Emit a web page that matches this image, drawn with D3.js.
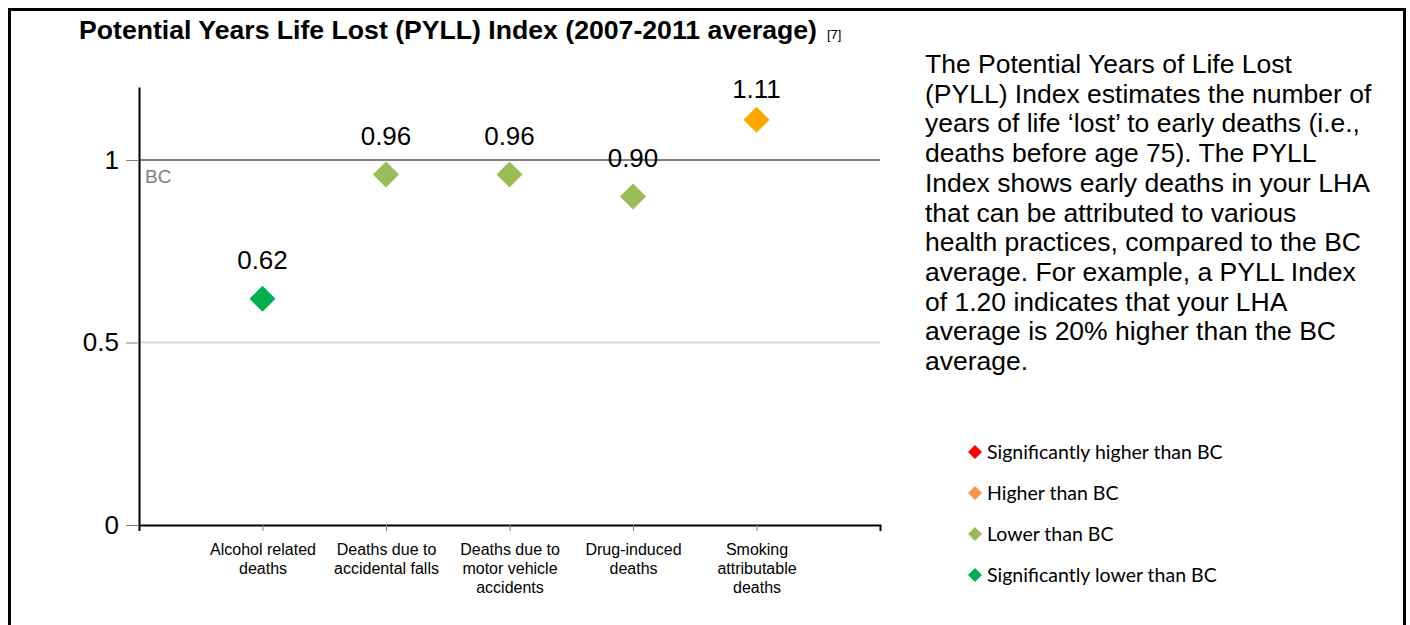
<!DOCTYPE html>
<html>
<head>
<meta charset="utf-8">
<script src="https://cdn.jsdelivr.net/npm/d3@7"></script>
<style>
  body { margin: 0; background: #fff; }
  svg { display: block; font-family: "Liberation Sans", Arial, sans-serif; }
</style>
</head>
<body>
<div id="root"></div>
<script>
const categories = [
  "Alcohol related\ndeaths",
  "Deaths due to\naccidental falls",
  "Deaths due to\nmotor vehicle\naccidents",
  "Drug-induced\ndeaths",
  "Smoking\nattributable\ndeaths"
];
const values = [0.62, 0.96, 0.96, 0.90, 1.11];
const pointColors = ["#00b050", "#9bbb59", "#9bbb59", "#9bbb59", "#ffa500"];
const yTicks = [0, 0.5, 1];
const legendLabels = ["Significantly higher than BC", "Higher than BC", "Lower than BC", "Significantly lower than BC"];
const legendColors = ["#ff0000", "#f79646", "#9bbb59", "#00b050"];
const noteLines = [
  "The Potential Years of Life Lost",
  "(PYLL) Index estimates the number of",
  "years of life \u2018lost\u2019 to early deaths (i.e.,",
  "deaths before age 75). The PYLL",
  "Index shows early deaths in your LHA",
  "that can be attributed to various",
  "health practices, compared to the BC",
  "average. For example, a PYLL Index",
  "of 1.20 indicates that your LHA",
  "average is 20% higher than the BC",
  "average."
];

const w = 1410;
const h = 625;
const plotLeft = 139, plotRight = 880, plotTop = 87, plotBottom = 525;

const svg = d3.select("#root")
  .append("svg")
  .attr("width", w)
  .attr("height", h);

// frame (open at the bottom)
svg.append("path")
  .attr("d", `M9.5,${h} V9.5 H1404.5 V${h}`)
  .attr("fill", "none")
  .attr("stroke", "#000")
  .attr("stroke-width", 3);

// title
const title = svg.append("text")
  .attr("x", 79)
  .attr("y", 39)
  .attr("font-size", 26)
  .attr("font-weight", "bold")
  .attr("fill", "#000");
title.append("tspan")
  .attr("textLength", 738)
  .attr("lengthAdjust", "spacingAndGlyphs")
  .text("Potential Years Life Lost (PYLL) Index (2007-2011 average)");
title.append("tspan").attr("font-size", 13).attr("font-weight", "normal").attr("dx", 10).text("[7]");

const xScale = d3.scalePoint()
  .domain(categories)
  .range([plotLeft, plotRight])
  .padding(1);

const yScale = d3.scaleLinear()
  .domain([0, 1.2])
  .range([plotBottom, plotTop]);

// gridline at 0.5
svg.append("line")
  .attr("x1", plotLeft).attr("x2", plotRight)
  .attr("y1", yScale(0.5)).attr("y2", yScale(0.5))
  .attr("stroke", "#d9d9d9")
  .attr("stroke-width", 2);

// BC reference line
svg.append("line")
  .attr("x1", plotLeft).attr("x2", plotRight)
  .attr("y1", yScale(1)).attr("y2", yScale(1))
  .attr("stroke", "#808080")
  .attr("stroke-width", 2);

svg.append("text")
  .attr("x", plotLeft + 6)
  .attr("y", yScale(1) + 23)
  .attr("font-size", 19)
  .attr("fill", "#7f7f7f")
  .text("BC");

// y axis
const yAxis = d3.axisLeft(yScale)
  .tickValues(yTicks)
  .tickFormat(d3.format("~g"))
  .tickSize(13)
  .tickSizeOuter(0)
  .tickPadding(7);

const gy = svg.append("g")
  .attr("transform", `translate(${plotLeft},0)`)
  .call(yAxis);
gy.select(".domain").attr("stroke", "#000").attr("stroke-width", 2);
gy.selectAll(".tick line").attr("stroke", "#808080");
gy.selectAll(".tick text")
  .attr("font-size", 26)
  .attr("font-family", "Liberation Sans, Arial, sans-serif")
  .attr("fill", "#000");

// x axis
const xAxis = d3.axisBottom(xScale)
  .tickSize(6)
  .tickSizeOuter(6)
  .tickFormat("");

const gx = svg.append("g")
  .attr("transform", `translate(0,${plotBottom})`)
  .call(xAxis);
gx.select(".domain").attr("stroke", "#000").attr("stroke-width", 2);
gx.selectAll(".tick line").attr("stroke", "#808080");

gx.selectAll(".tick")
  .append("text")
  .attr("fill", "#000")
  .attr("font-size", 16)
  .attr("font-family", "Liberation Sans, Arial, sans-serif")
  .attr("text-anchor", "middle")
  .each(function(d) {
    d3.select(this).selectAll("tspan")
      .data(d.split("\n"))
      .enter()
      .append("tspan")
      .attr("x", 0)
      .attr("y", (s, i) => 30 + i * 19)
      .text(s => s);
  });

// points (symbolDiamond2 half-diagonal = sqrt(size) * 0.62625)
const diamondSize = r => Math.pow(r / 0.62625, 2);
const diamond = d3.symbol().type(d3.symbolDiamond2).size(diamondSize(13));

svg.selectAll(".pt")
  .data(values)
  .enter()
  .append("path")
  .attr("class", "pt")
  .attr("d", diamond)
  .attr("transform", (d, i) => `translate(${xScale(categories[i])},${yScale(d)})`)
  .attr("fill", (d, i) => pointColors[i]);

svg.selectAll(".val")
  .data(values)
  .enter()
  .append("text")
  .attr("class", "val")
  .attr("x", (d, i) => xScale(categories[i]))
  .attr("y", d => Math.max(yScale(d) - 30, 98))
  .attr("text-anchor", "middle")
  .attr("font-size", 26)
  .attr("fill", "#000")
  .text(d => d3.format(".2f")(d));

// note text
const note = svg.append("text")
  .attr("font-size", 26.5)
  .attr("fill", "#000");
note.selectAll("tspan")
  .data(noteLines)
  .enter()
  .append("tspan")
  .attr("x", 925)
  .attr("y", (d, i) => 73 + i * 29.7)
  .text(d => d);

// legend
const legend = svg.append("g")
  .attr("transform", "translate(975,452)");

const legendRow = legend.selectAll("g")
  .data(legendLabels)
  .enter()
  .append("g")
  .attr("transform", (d, i) => `translate(0,${i * 41})`);

legendRow.append("path")
  .attr("d", d3.symbol().type(d3.symbolDiamond2).size(diamondSize(7)))
  .attr("fill", (d, i) => legendColors[i]);

legendRow.append("text")
  .attr("x", 12)
  .attr("y", 7)
  .attr("font-size", 19.5)
  .attr("font-family", "Lato, 'Noto Sans', sans-serif")
  .attr("fill", "#000")
  .text(d => d);
</script>
</body>
</html>
